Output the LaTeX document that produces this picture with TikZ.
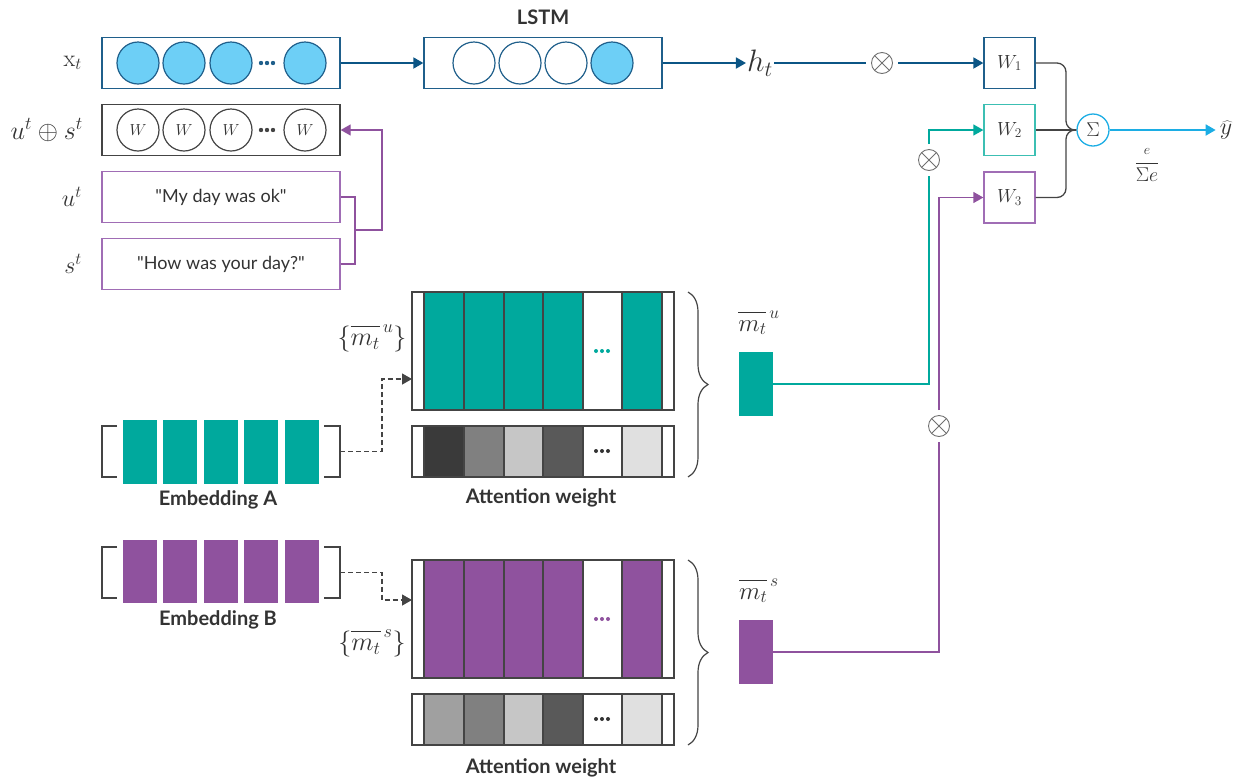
\RequirePackage{fix-cm}
\documentclass[tikz,border=0pt]{standalone}
\usepackage[no-math]{fontspec}
\setmainfont{Lato}[Ligatures=TeXOff]
\usetikzlibrary{arrows.meta,decorations.pathreplacing,calc}
\definecolor{lblue}{HTML}{6DCFF6}
\definecolor{dblue}{HTML}{1F5F8B}
\definecolor{ablue}{HTML}{0B5585}
\definecolor{tealc}{HTML}{00A99D}
\definecolor{tealw}{HTML}{3CBFB3}
\definecolor{purp}{HTML}{8F529E}
\definecolor{purpw}{HTML}{A06DB5}
\definecolor{cyanc}{HTML}{1CADE4}
\definecolor{txt}{HTML}{333333}
\definecolor{dgray}{HTML}{444444}
\definecolor{ogray}{HTML}{707070}
\begin{document}
\begin{tikzpicture}[x=1pt,y=-1pt,
  lbl/.style={text=txt, font=\fontsize{18}{21}\selectfont, inner sep=1},
  blbl/.style={text=txt, font=\fontsize{20}{23}\selectfont\bfseries, inner sep=1},
  mlbl/.style={text=txt, font=\fontsize{24}{27}\selectfont, inner sep=2},
  bigbox/.style={draw, line width=1.3, minimum width=238, minimum height=51, inner sep=0},
  cir/.style={circle, draw, line width=1.2, minimum size=42, inner sep=0},
  wbox/.style={draw, line width=1.3, minimum width=51, minimum height=51, inner sep=0, text=txt, font=\fontsize{19}{22}\selectfont},
  attbox/.style={draw=dgray, line width=1.2, minimum width=262, inner sep=0},
  arr/.style={-{Triangle[length=10pt,width=11pt]}},
  thick1/.style={line width=1.8},
  thin1/.style={line width=1.3},
  otim/.style={circle, draw=ogray, line width=0.9, minimum size=21, inner sep=0, outer sep=5.5,
    path picture={\draw[ogray, line width=0.9] (path picture bounding box.north west)--(path picture bounding box.south east) (path picture bounding box.north east)--(path picture bounding box.south west);}},
  emb/.style={minimum width=238, minimum height=51, inner sep=0},
  mrect/.style={minimum width=34, minimum height=64, inner sep=0}
]
\useasboundingbox (0,0) rectangle (1245,780);

% ---------- top row x_t ----------
\node[mlbl, anchor=east] (lxt) at (84,63) {$\mathrm{x}_t$};
\node[bigbox, draw=dblue] (xt) at (221,63) {};
\foreach \x in {138,184,231,305} \node[cir, draw=dblue, fill=lblue] (xc\x) at (\x,63) {};
\foreach \d in {-6,0,6} \fill[dblue] (267+\d,63) circle (2.2);

% ---------- LSTM ----------
\node[blbl] (lstmlbl) at (543,17) {LSTM};
\node[bigbox, draw=dblue] (lstm) at (543,63) {};
\foreach \x in {474,520,566} \node[cir, draw=dblue, fill=white] (lc\x) at (\x,63) {};
\node[cir, draw=dblue, fill=lblue] (lc612) at (612,63) {};
\draw[ablue, thick1, arr] (xt.east) -- (lstm.west);

\node[text=txt, font=\fontsize{31}{34}\selectfont, inner sep=1] (ht) at (760,63) {$h_t$};
\draw[ablue, thick1, arr] (lstm.east) -- (ht.west);
\node[otim] (o1) at (882,63) {};

% ---------- W boxes ----------
\node[wbox, draw=dblue] (W1) at (1009.5,63) {$W_1$};
\node[wbox, draw=tealw] (W2) at (1009.5,130) {$W_2$};
\node[wbox, draw=purpw] (W3) at (1009.5,197.5) {$W_3$};
\draw[ablue, thick1] (ht.east) -- (o1);
\draw[ablue, thick1, arr] (o1) -- (W1.west);

\node[circle, draw=cyanc, line width=1.3, minimum size=32, inner sep=0, text=txt, font=\fontsize{20}{22}\selectfont] (sig) at (1093,130) {$\Sigma$};
\coordinate (jn) at (1066,130);
\draw[dgray, thin1, rounded corners=9] (W1.east) -| (jn) -- (sig.west);
\draw[dgray, thin1, rounded corners=9] (W3.east) -| (jn) -- (sig.west);
\draw[dgray, thick1] (W2.east) -- (sig.west);
\node[mlbl, inner sep=4] (yhat) at (1226,130) {$\widehat{y}$};
\draw[cyanc, thick1, arr] (sig.east) -- (yhat.west);
\node[text=txt, font=\fontsize{20}{22}\selectfont] (frac) at (1147,165) {$\displaystyle\frac{\scriptstyle e}{\Sigma e}$};

% ---------- u + s row ----------
\node[mlbl, font=\fontsize{26}{28}\selectfont, anchor=east] (luos) at (85,130) {$u^t\oplus s^t$};
\node[bigbox, draw=dgray] (uos) at (221,130) {};
\foreach \x in {138,184,231,305} \node[cir, draw=dgray, fill=white, text=txt, font=\fontsize{16}{17}\selectfont] (wc\x) at (\x,130) {$W$};
\foreach \d in {-6,0,6} \fill[dgray] (267+\d,130) circle (2.2);

\node[mlbl, anchor=east] (lu) at (84,197) {$u^t$};
\node[bigbox, draw=purpw, lbl] (ubox) at (221,197) {"My day was ok"};
\node[mlbl, anchor=east] (ls) at (84,264) {$s^t$};
\node[bigbox, draw=purpw, lbl] (sbox) at (221,264) {"How was your day?"};
\coordinate (pj) at (355,230);
\coordinate (pk) at (382,230);
\draw[purp, thin1] (ubox.east) -| (pj);
\draw[purp, thin1] (sbox.east) -| (pj);
\draw[purp, thin1, arr] (pj) -- (pk) |- (uos.east);

% ---------- Attention A ----------
\node[attbox, minimum height=118] (attA) at (543,351) {};
\node[attbox, minimum height=51] (wA) at (543,451.5) {};
\foreach \xa/\xb/\c in {424/464/tealc,464/504/tealc,504/543/tealc,543/583/tealc,583/622/white,622/662/tealc}
  \draw[dgray, line width=1.2, fill=\c] (\xa,292) rectangle (\xb,410);
\foreach \xa/\xb/\c in {424/464/3A3A3A,464/504/808080,504/543/C6C6C6,543/583/595959,583/622/FFFFFF,622/662/E0E0E0}
  {\definecolor{cc}{HTML}{\c}\draw[dgray, line width=1.2, fill=cc] (\xa,426) rectangle (\xb,477);}
\foreach \d in {-6,0,6} \fill[tealc] (602+\d,351) circle (2);
\foreach \d in {-6,0,6} \fill[txt] (602+\d,451) circle (2);
\draw[dgray, line width=1.2, decorate, decoration={brace, amplitude=20}] (688,292) -- (688,477);
\node[blbl] (attAl) at (541,498) {Attention weight};
\node[mlbl, font=\fontsize{26}{28}\selectfont] (mAl) at (372,338) {$\left\{\overline{\vphantom{l}m_t}^{\,u}\right\}$};

% ---------- Attention B ----------
\node[attbox, minimum height=118] (attB) at (543,619) {};
\node[attbox, minimum height=51] (wB) at (543,719.5) {};
\foreach \xa/\xb/\c in {424/464/purp,464/504/purp,504/543/purp,543/583/purp,583/622/white,622/662/purp}
  \draw[dgray, line width=1.2, fill=\c] (\xa,560) rectangle (\xb,678);
\foreach \xa/\xb/\c in {424/464/A0A0A0,464/504/808080,504/543/C6C6C6,543/583/595959,583/622/FFFFFF,622/662/E0E0E0}
  {\definecolor{cc}{HTML}{\c}\draw[dgray, line width=1.2, fill=cc] (\xa,694) rectangle (\xb,745);}
\foreach \d in {-6,0,6} \fill[purp] (602+\d,619) circle (2);
\foreach \d in {-6,0,6} \fill[txt] (602+\d,719) circle (2);
\draw[dgray, line width=1.2, decorate, decoration={brace, amplitude=20}] (688,560) -- (688,745);
\node[blbl] (attBl) at (541,768) {Attention weight};
\node[mlbl, font=\fontsize{26}{28}\selectfont] (mBl) at (372,643) {$\left\{\overline{\vphantom{l}m_t}^{\,s}\right\}$};

% ---------- Embeddings ----------
\node[emb] (embA) at (221,451.5) {};
\draw[dgray, line width=1.2] (117,426) -- (102,426) -- (102,477) -- (117,477);
\draw[dgray, line width=1.2] (324,426) -- (340,426) -- (340,477) -- (324,477);
\foreach \xa/\xb in {123/157,163/197,204/238,244/278,285/319}
  \fill[tealc] (\xa,420) rectangle (\xb,484);
\node[blbl] (embAl) at (218,500) {Embedding A};

\node[emb] (embB) at (221,572.5) {};
\draw[dgray, line width=1.2] (117,547) -- (102,547) -- (102,598) -- (117,598);
\draw[dgray, line width=1.2] (324,547) -- (340,547) -- (340,598) -- (324,598);
\foreach \xa/\xb in {123/157,163/197,204/238,244/278,285/319}
  \fill[purp] (\xa,540) rectangle (\xb,603);
\node[blbl] (embBl) at (218,620) {Embedding B};

\coordinate (dA1) at (382,451.5);
\coordinate (dA2) at (412,379);
\draw[dgray, line width=1.3, dash pattern=on 5pt off 3pt, arr] (embA.east) -- (dA1) |- (dA2);
\coordinate (dB1) at (382,572.5);
\coordinate (dB2) at (412,600);
\draw[dgray, line width=1.3, dash pattern=on 5pt off 3pt, arr] (embB.east) -- (dB1) |- (dB2);

% ---------- m_t bars ----------
\node[text=txt, font=\fontsize{25}{27}\selectfont] (muL) at (759,323) {$\overline{\vphantom{l}m_t}^{\,u}$};
\node[mrect, fill=tealc] (mu) at (756,384) {};
\node[text=txt, font=\fontsize{25}{27}\selectfont] (msL) at (759,591) {$\overline{\vphantom{l}m_t}^{\,s}$};
\node[mrect, fill=purp] (ms) at (756,652) {};

\node[otim] (o2) at (929,160) {};
\node[otim] (o3) at (939,426) {};
\draw[tealc, thin1] (mu.east) -| (o2);
\draw[tealc, thin1, arr] (o2) |- (W2.west);
\draw[purp, thin1] (ms.east) -| (o3);
\draw[purp, thin1, arr] (o3) |- (W3.west);
\end{tikzpicture}
\end{document}
